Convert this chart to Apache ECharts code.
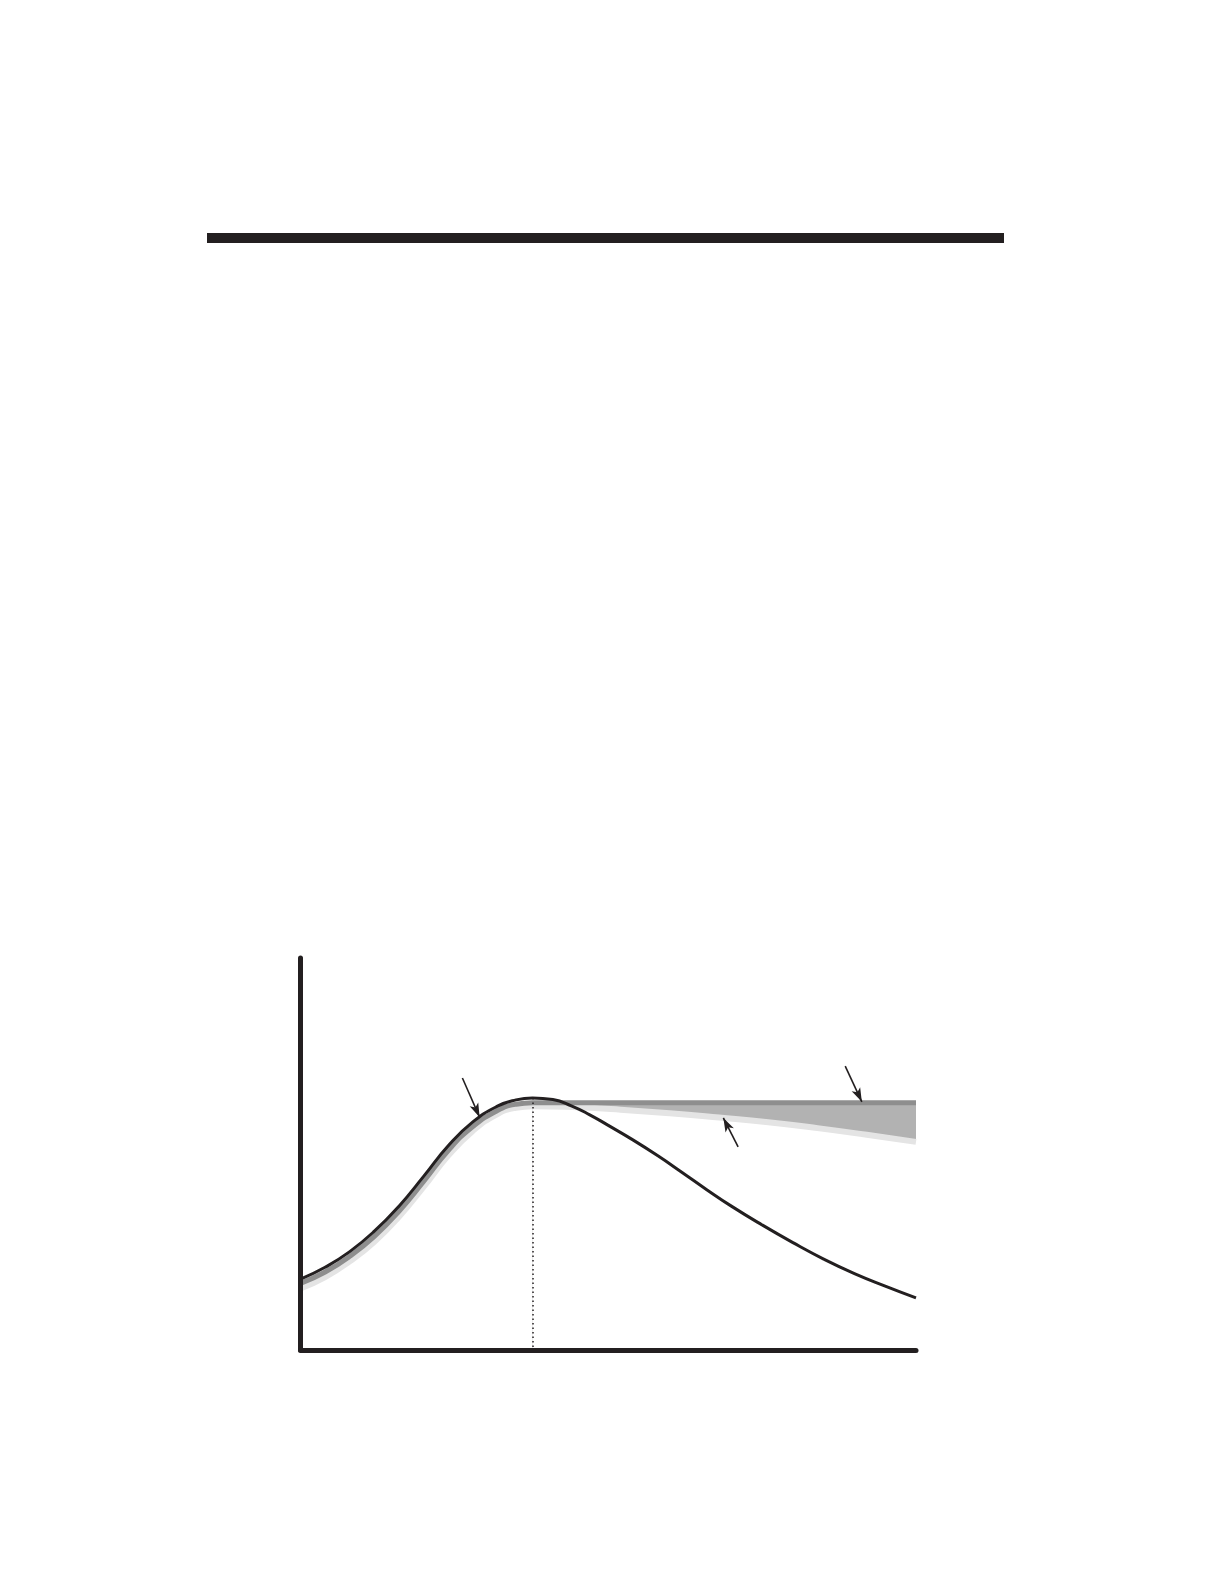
<!DOCTYPE html>
<html>
<head>
<meta charset="utf-8">
<script src="https://cdn.jsdelivr.net/npm/echarts@6/dist/echarts.min.js"></script>
<style>
  html, body { margin: 0; padding: 0; background: #fff; }
  #main { width: 1224px; height: 1584px; }
</style>
</head>
<body>
<div id="main"></div>
<script>
// main curve (black)
var curveX = [0, 4, 8, 12, 16, 20, 24, 28, 32, 35, 37.7, 41, 44, 47, 50, 54, 58, 62, 66, 70, 75, 80, 85, 90, 95, 100];
var curveY = [18.1, 21.1, 25.1, 30.3, 36.7, 44.3, 52.1, 58.2, 62.2, 63.8, 64.3, 63.9, 62.3, 60.0, 57.3, 53.6, 49.6, 45.3, 40.9, 36.7, 31.9, 27.4, 23.2, 19.5, 16.3, 13.3];

// dark gray curve: follows the rise, then stays flat
var darkX = [0, 4, 8, 12, 16, 20, 24, 28, 32, 35, 37.7, 45, 60, 80, 100];
var darkY = [17.0, 19.9, 23.9, 29.0, 35.4, 43.0, 50.9, 57.0, 61.1, 62.7, 63.1, 63.1, 63.1, 63.1, 63.1];

// light gray curve: follows the rise, then slowly declines
var lightX = [0, 4, 8, 12, 16, 20, 24, 28, 32, 35, 37.7, 45, 52, 60, 68, 76, 84, 92, 100];
var lightY = [15.7, 18.6, 22.6, 27.6, 34.0, 41.6, 49.6, 55.9, 60.2, 61.8, 62.2, 61.9, 61.3, 60.4, 59.3, 58.1, 56.6, 54.9, 53.1];

var peakIndex = 10;  // index of the peak in the arrays above

// arrows: [tail, head]
var arrows = [
  [[26.3, 69.4], [29.1, 59.4]],
  [[88.5, 72.4], [91.2, 63.3]],
  [[71.1, 51.8], [68.7, 59.2]]
];

function pairs(xs, ys) {
  var out = [];
  for (var i = 0; i < xs.length; i++) out.push([xs[i], ys[i]]);
  return out;
}

var ink = '#231f20';
var chart = echarts.init(document.getElementById('main'));

var lightTail = pairs(lightX.slice(peakIndex), lightY.slice(peakIndex));
var darkTail = pairs(darkX.slice(peakIndex), darkY.slice(peakIndex));

var arrowLines = arrows.map(function (a) {
  return [{ coord: a[0] }, { coord: a[1] }];
});

var option = {
  animation: false,
  backgroundColor: '#fff',
  graphic: [
    {
      type: 'rect',
      shape: { x: 207, y: 233, width: 797, height: 10 },
      style: { fill: ink }
    }
  ],
  grid: { left: 300.5, right: 308, top: 958, bottom: 234 },
  xAxis: {
    type: 'value', min: 0, max: 100, z: 10,
    axisLine: { show: true, onZero: false, lineStyle: { color: ink, width: 5 } },
    axisTick: { show: false }, axisLabel: { show: false }, splitLine: { show: false }
  },
  yAxis: {
    type: 'value', min: 0, max: 100, z: 10,
    axisLine: { show: true, onZero: false, lineStyle: { color: ink, width: 5 } },
    axisTick: { show: false }, axisLabel: { show: false }, splitLine: { show: false }
  },
  series: [
    {
      // mid gray band between flat and declining curves
      type: 'line', z: 1, smooth: 0.5, showSymbol: false, silent: true,
      data: darkTail,
      lineStyle: { width: 0, opacity: 0 },
      areaStyle: { color: '#b2b2b2', opacity: 1, origin: 'start' }
    },
    {
      type: 'line', z: 2, smooth: 0.5, showSymbol: false, silent: true,
      data: lightTail,
      lineStyle: { width: 0, opacity: 0 },
      areaStyle: { color: '#ffffff', opacity: 1, origin: 'start' }
    },
    {
      type: 'line', z: 3, smooth: 0.5, showSymbol: false, silent: true,
      data: pairs(lightX, lightY),
      lineStyle: { color: '#e4e4e4', width: 6 }
    },
    {
      type: 'line', z: 4, smooth: 0.5, showSymbol: false, silent: true,
      data: pairs(darkX, darkY),
      lineStyle: { color: '#8e8e8e', width: 5 }
    },
    {
      type: 'line', z: 5, smooth: 0.5, showSymbol: false, silent: true,
      data: pairs(curveX, curveY),
      lineStyle: { color: ink, width: 3 },
      markLine: {
        silent: true,
        symbol: ['none', 'none'],
        label: { show: false },
        lineStyle: { color: ink, width: 1.5, type: [1.5, 3] },
        data: [
          [{ coord: [curveX[peakIndex], curveY[peakIndex]] }, { coord: [curveX[peakIndex], 0] }]
        ]
      }
    },
    {
      type: 'line', z: 6, silent: true, data: [],
      markLine: {
        silent: true,
        symbol: ['none', 'arrow'],
        symbolSize: [7, 14],
        label: { show: false },
        lineStyle: { color: ink, width: 1.6, type: 'solid' },
        data: arrowLines
      }
    }
  ]
};

chart.setOption(option);
</script>
</body>
</html>
